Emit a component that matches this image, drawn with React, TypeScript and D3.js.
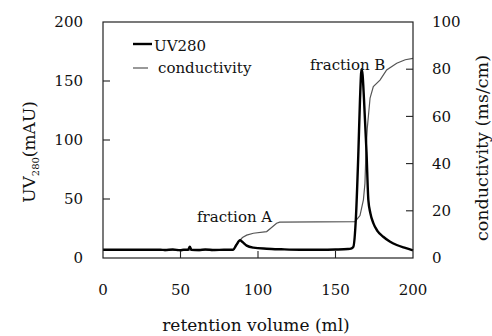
import React from "react";
import * as d3 from "d3";

const volume: number[] = [0, 37, 40, 45, 50, 52, 55, 56, 57, 62, 66, 72, 78, 84, 86, 88.4, 90, 92.7, 97, 105.6, 115, 127, 140, 150, 158, 160, 161.5, 163.2, 164.7, 165.8, 166.8, 167.5, 168.4, 170, 171.2, 172.5, 174.4, 177, 180.8, 185, 189.5, 195, 200];
const uv280: number[] = [7, 7, 6.8, 7.2, 6.6, 7, 7, 9.6, 7, 6.8, 7.2, 6.8, 7, 7, 11, 15, 13.5, 10.5, 8.8, 7.9, 7.4, 7, 7, 7.2, 7.6, 8, 9.5, 35, 87, 134, 160, 155, 134, 90, 49, 38, 29.6, 23, 18, 14, 11, 8.5, 6.5];

const condVolume: number[] = [0, 37, 40, 44, 48, 52, 62, 66, 70, 74, 84, 86, 88.4, 90, 92.7, 97, 105.6, 108, 112, 114, 162.6, 165.8, 168, 169, 169.7, 170.5, 172.3, 174.4, 178.7, 183, 189.5, 195, 200];
const conductivity: number[] = [3.5, 3.5, 3.1, 3.5, 3.1, 3.5, 3.1, 3.5, 3.1, 3.5, 3.5, 5.5, 7.6, 8.7, 9.7, 10.5, 11.2, 12.5, 14.7, 15.2, 15.4, 18, 24.6, 31.6, 45.8, 55, 67.8, 72.6, 75.4, 79.7, 82.5, 84, 84.6];

const xTicks: number[] = [0, 50, 100, 150, 200];
const yLeftTicks: number[] = [0, 50, 100, 150, 200];
const yRightTicks: number[] = [0, 20, 40, 60, 80, 100];

const W = 492;
const H = 336;
const L = 103, R = 413, T = 22, B = 258;
const FONT = "'DejaVu Serif', 'Liberation Serif', serif";

export default function App() {
  const x = d3.scaleLinear().domain([0, 200]).range([L, R]);
  const yL = d3.scaleLinear().domain([0, 200]).range([B, T]);
  const yR = d3.scaleLinear().domain([0, 100]).range([B, T]);

  const uvLine = d3.line<number>().x((_, i) => x(volume[i])).y((d) => yL(d)).curve(d3.curveMonotoneX);
  const condLine = d3.line<number>().x((_, i) => x(condVolume[i])).y((d) => yR(d));
  const tickLen = 7;
  const ts = { fontFamily: FONT } as React.CSSProperties;
  const FS = 15;

  return (
    <svg width={W} height={H} style={{ position: "absolute", left: 0, top: 0, background: "#fff", fontFamily: FONT }}>
      <rect x={0} y={0} width={W} height={H} fill="#fff" />
      <path d={condLine(conductivity) || ""} fill="none" stroke="#555" strokeWidth={1.2} />
      <path d={uvLine(uv280) || ""} fill="none" stroke="#000" strokeWidth={2.4} strokeLinejoin="round" />
      <rect x={L} y={T} width={R - L} height={B - T} fill="none" stroke="#222" strokeWidth={1.2} />
      {xTicks.filter((t) => t > 0 && t < 200).map((t) => (
        <line key={"xt" + t} x1={x(t)} x2={x(t)} y1={B} y2={B - tickLen} stroke="#222" strokeWidth={1.1} />
      ))}
      {yLeftTicks.filter((t) => t > 0 && t < 200).map((t) => (
        <line key={"ylt" + t} x1={L} x2={L + tickLen} y1={yL(t)} y2={yL(t)} stroke="#222" strokeWidth={1.1} />
      ))}
      {yRightTicks.filter((t) => t > 0 && t < 100).map((t) => (
        <line key={"yrt" + t} x1={R} x2={R - tickLen} y1={yR(t)} y2={yR(t)} stroke="#222" strokeWidth={1.1} />
      ))}
      {xTicks.map((t) => (
        <text key={"xl" + t} style={ts} x={x(t)} y={295} textAnchor="middle" fontSize={FS} fill="#111">{t}</text>
      ))}
      {yLeftTicks.map((t) => (
        <text key={"yll" + t} style={ts} x={83} y={yL(t)} dy="0.35em" textAnchor="end" fontSize={FS} fill="#111">{t}</text>
      ))}
      {yRightTicks.map((t) => (
        <text key={"yrl" + t} style={ts} x={432} y={yR(t)} dy="0.35em" textAnchor="start" fontSize={FS} fill="#111">{t}</text>
      ))}
      <text style={ts} x={256} y={331} textAnchor="middle" fontSize={17} fill="#111">retention volume (ml)</text>
      <text style={ts} transform={`translate(35,152) rotate(-90)`} textAnchor="middle" fontSize={17} fill="#111">
        UV<tspan fontSize={10} dy={4}>280</tspan><tspan dy={-4}>(mAU)</tspan>
      </text>
      <text style={ts} transform={`translate(488,148) rotate(-90)`} textAnchor="middle" fontSize={17.5} fill="#111">conductivity (ms/cm)</text>
      <line x1={133} x2={152} y1={44} y2={44} stroke="#000" strokeWidth={2.4} />
      <text style={ts} x={154} y={51} fontSize={FS} fill="#111">UV280</text>
      <line x1={133} x2={148} y1={68} y2={68} stroke="#555" strokeWidth={1.2} />
      <text style={ts} x={158} y={73} fontSize={FS} fill="#111">conductivity</text>
      <text style={ts} x={310} y={70} fontSize={FS} fill="#111">fraction B</text>
      <text style={ts} x={197} y={222} fontSize={FS} fill="#111">fraction A</text>
    </svg>
  );
}
